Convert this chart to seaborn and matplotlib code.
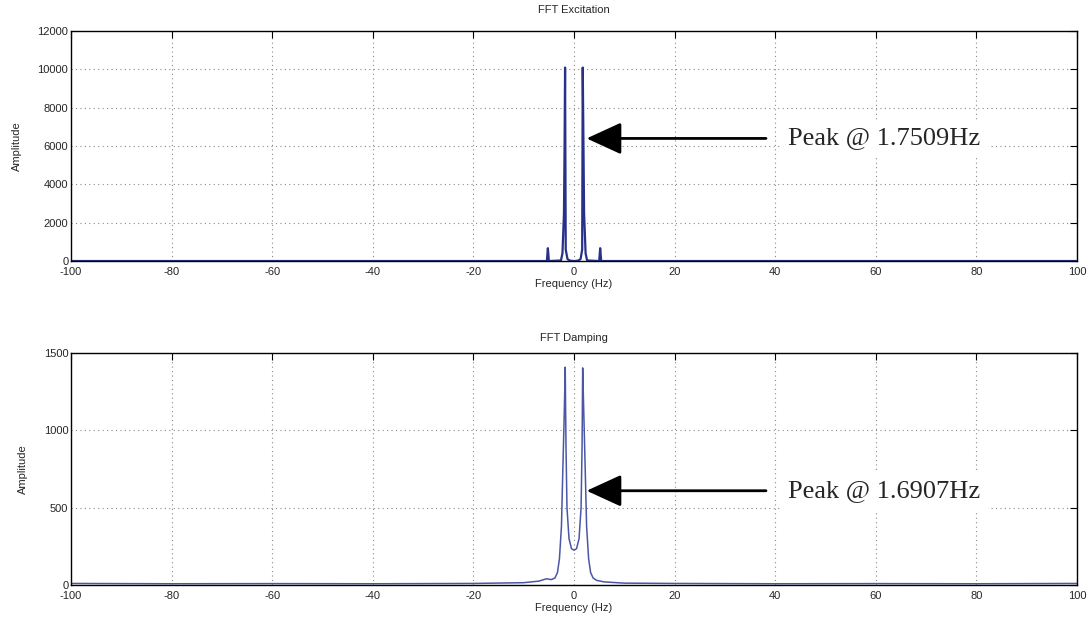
import numpy as np
import pandas as pd
import seaborn as sns
import matplotlib.pyplot as plt

# --- data ---
exc_freq = [-100, -5.4, -5.2, -5.0, -2.6, -2.3, -2.0, -1.88, -1.78, -1.65, -1.3, -0.8, 0,
            0.8, 1.3, 1.62, 1.73, 1.85, 2.0, 2.3, 2.6, 5.0, 5.2, 5.4, 100]
exc_amp = [0, 0, 670, 0, 30, 400, 2500, 6000, 10100, 600, 100, 20, 0,
           20, 100, 600, 10100, 6800, 2500, 400, 30, 0, 670, 0, 0]

damp_freq = [-100, -80, -60, -40, -20, -10, -7, -5.5, -4.5, -3.8, -3.3, -2.9, -2.5, -2.2,
             -1.95, -1.75, -1.6, -1.4, -1.0, -0.5, 0, 0.5, 1.0, 1.4, 1.6, 1.72, 1.95,
             2.2, 2.5, 2.9, 3.3, 3.8, 4.5, 6, 10, 20, 40, 60, 80, 100]
damp_amp = [10, 8, 9, 8, 10, 15, 25, 40, 35, 45, 80, 170, 380, 780,
            1100, 1410, 900, 500, 300, 235, 225, 235, 300, 500, 900, 1405, 1100,
            780, 380, 170, 80, 45, 30, 20, 12, 10, 8, 9, 8, 10]

titles = ["FFT Excitation", "FFT Damping"]
peak_labels = ["Peak @ 1.7509Hz", "Peak @ 1.6907Hz"]
arrow_tips = [(2.5, 6400), (2.5, 610)]
ymax = [12000, 1500]
yticks = [np.arange(0, 12001, 2000), np.arange(0, 1501, 500)]
title_pads = [13, 9]

sns.set_style("white")
plt.rcParams['font.family'] = ['Liberation Sans', 'DejaVu Sans']
plt.rcParams['axes.unicode_minus'] = False

fig = plt.figure(figsize=(10.88, 6.23), dpi=100)
ax1 = fig.add_axes([0.0653, 0.581, 0.9246, 0.369])
ax2 = fig.add_axes([0.0653, 0.061, 0.9246, 0.372])

frames = [pd.DataFrame({"f": exc_freq, "a": exc_amp}),
          pd.DataFrame({"f": damp_freq, "a": damp_amp})]
colors = ["#27318a", "#4b56a6"]
widths = [1.6, 1.1]

for i, ax in enumerate([ax1, ax2]):
    sns.lineplot(data=frames[i], x="f", y="a", ax=ax, color=colors[i], lw=widths[i])
    ax.set_xlim(-100, 100)
    ax.set_ylim(0, ymax[i])
    ax.set_xticks(np.arange(-100, 101, 20))
    ax.set_yticks(yticks[i])
    ax.grid(True, linestyle=(0, (1, 3)), color="#8a8a8a", lw=0.8)
    ax.tick_params(direction="in", top=True, right=True, length=5, labelsize=8,
                   color="black", pad=2)
    ax.tick_params(axis="x", pad=4)
    for s in ax.spines.values():
        s.set_color("black")
        s.set_linewidth(1.0)
    ax.set_title(titles[i], fontsize=8, pad=title_pads[i])
    ax.set_xlabel("Frequency (Hz)", fontsize=8, labelpad=2)
    ax.set_ylabel("Amplitude", fontsize=8, labelpad=11)
    ax.annotate(peak_labels[i], xy=arrow_tips[i], xytext=(42.5, arrow_tips[i][1]),
                va="center", ha="left", fontsize=19, family="Liberation Serif",
                bbox=dict(boxstyle="square,pad=0.3", fc="white", ec="none"),
                arrowprops=dict(arrowstyle="-|>,head_length=1.2,head_width=0.55",
                                color="black", lw=2, shrinkA=10, shrinkB=0,
                                mutation_scale=18))

fig.savefig("out.png", dpi=100)
